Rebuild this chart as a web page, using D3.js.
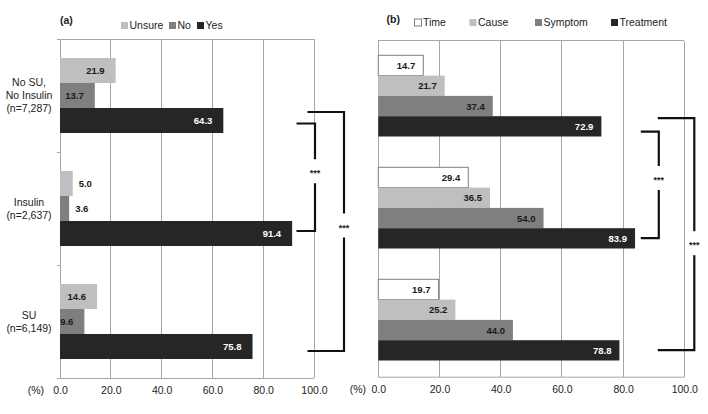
<!DOCTYPE html>
<html><head><meta charset="utf-8">
<script src="https://cdn.jsdelivr.net/npm/d3@7/dist/d3.min.js"></script>
<style>body{margin:0;background:#fff}svg{display:block;font-family:"Liberation Sans",Arial,sans-serif}</style>
</head><body>
<svg id="c" width="708" height="414"></svg>
<script>
// ---- data ----
const categories = ["No SU, No Insulin (n=7,287)", "Insulin (n=2,637)", "SU (n=6,149)"];
const categoryLines = [["No SU,", "No Insulin", "(n=7,287)"], ["Insulin", "(n=2,637)"], ["SU", "(n=6,149)"]];
const seriesA = ["Unsure", "No", "Yes"];
const unsureVals = [21.9, 5.0, 14.6];
const noVals = [13.7, 3.6, 9.6];
const yesVals = [64.3, 91.4, 75.8];
const seriesB = ["Time", "Cause", "Symptom", "Treatment"];
const timeVals = [14.7, 29.4, 19.7];
const causeVals = [21.7, 36.5, 25.2];
const symptomVals = [37.4, 54.0, 44.0];
const treatmentVals = [72.9, 83.9, 78.8];
const tickValues = [0, 20, 40, 60, 80, 100];
const sigA = [[0, 1, "***"], [0, 2, "***"]];
const sigB = [[0, 1, "***"], [0, 2, "***"]];

const valuesA = [unsureVals, noVals, yesVals];
const valuesB = [timeVals, causeVals, symptomVals, treatmentVals];

const svg = d3.select("#c");
const gridCol = "#a6a6a6";

function panel(opt) {
  const x = d3.scaleLinear().domain([0, 100]).range(opt.xr);
  const y = d3.scaleBand().domain(categories).range(opt.yr);
  const yi = d3.scaleBand().domain(opt.series).range(opt.inner);
  const g = svg.append("g");
  // gridlines
  g.selectAll("line.grid").data(tickValues).join("line")
    .attr("x1", d => x(d)).attr("x2", d => x(d))
    .attr("y1", opt.yr[0]).attr("y2", opt.yr[1])
    .attr("stroke", gridCol).attr("stroke-width", 1).attr("shape-rendering", "crispEdges");
  // top border
  g.append("line").attr("x1", x(0)).attr("x2", x(100)).attr("y1", opt.yr[0]).attr("y2", opt.yr[0])
    .attr("stroke", gridCol).attr("shape-rendering", "crispEdges");
  // bottom axis
  const ax = g.append("g").attr("transform", `translate(0,${opt.yr[1]})`)
    .call(d3.axisBottom(x).tickValues(tickValues).tickFormat(d3.format(".1f")).tickSize(0).tickPadding(9));
  ax.select(".domain").attr("stroke", gridCol).attr("d", `M${x(0) - (opt.leftTicks ? 3 : 0)},0.5H${x(100)}`);
  ax.selectAll("text").attr("font-size", 10.5).attr("fill", "#222").attr("font-family", "Liberation Sans, Arial, sans-serif");
  g.append("text").attr("x", opt.pctX).attr("y", opt.yr[1] + 16).attr("font-size", 10.5).attr("fill", "#222")
    .attr("text-anchor", "end").text("(%)");
  if (opt.leftTicks) {
    const la = g.append("g").attr("transform", `translate(${x(0)},0)`)
      .call(d3.axisLeft(d3.scaleLinear().domain([0, categories.length]).range(opt.yr)).ticks(3).tickValues([0, 1, 2, 3]).tickSize(3).tickFormat(""));
    la.select(".domain").attr("stroke", gridCol);
    la.selectAll("line").attr("stroke", gridCol);
    categories.forEach((c, i) => {
      const lines = categoryLines[i];
      const cy = y(c) + y.bandwidth() / 2;
      const t = g.append("text").attr("text-anchor", "middle").attr("font-size", 10.5).attr("fill", "#222");
      lines.forEach((l, j) => {
        t.append("tspan").attr("x", 29).attr("y", cy + (j - (lines.length - 1) / 2) * 13 + 3.8).text(l);
      });
    });
  }
  // bars
  opt.series.forEach((s, si) => {
    const vals = opt.values[si];
    const st = opt.styles[si];
    categories.forEach((c, ci) => {
      const v = vals[ci];
      const y0 = y(c) + yi(s);
      g.append("rect").attr("x", x(0)).attr("y", y0).attr("width", x(v) - x(0)).attr("height", yi.bandwidth())
        .attr("fill", st.fill).attr("stroke", st.stroke || "none").attr("stroke-width", 1);
      const t = g.append("text").attr("font-size", 9.5).attr("font-weight", "bold").attr("fill", st.text)
        .attr("y", y0 + yi.bandwidth() / 2 + 3.5).text(v.toFixed(1));
      const tw = t.node().getComputedTextLength();
      const w = x(v) - x(0);
      if (w > tw + 6) t.attr("text-anchor", "end").attr("x", x(v) - opt.lblPad);
      else t.attr("text-anchor", "start").attr("x", x(v) + 6).attr("fill", "#1a1a1a");
    });
  });
  // legend
  const lg = g.append("g");
  opt.series.forEach((s, si) => {
    const st = opt.styles[si];
    lg.append("rect").attr("x", opt.legendX[si]).attr("y", opt.legendY - 3.5).attr("width", 7).attr("height", 7)
      .attr("fill", st.fill).attr("stroke", st.stroke || "none");
    lg.append("text").attr("x", opt.legendX[si] + 8.5).attr("y", opt.legendY + 3.8).attr("font-size", 10.5)
      .attr("fill", "#222").text(s);
  });
  g.append("text").attr("x", opt.tagX).attr("y", opt.legendY + (opt.tagDy || 0)).attr("font-size", 10.5).attr("font-weight", "bold")
    .attr("fill", "#222").text(opt.tag);
  // brackets
  const last = opt.series[opt.series.length - 1];
  opt.sig.forEach((b, bi) => {
    const bs = opt.brackets[bi];
    const ya = y(categories[b[0]]) + yi(last) + bs.dyTop;
    const yb = y(categories[b[1]]) + yi(last) + bs.dyBot;
    const xv = x(100) + bs.xv, xh = x(100) + bs.xh;
    g.append("path").attr("d", `M${xh},${ya}H${xv}V${yb}H${xh}`).attr("fill", "none")
      .attr("stroke", "#111").attr("stroke-width", 2.2);
    const gy = (ya + yb) / 2 + bs.gap;
    g.append("rect").attr("x", xv - 8).attr("y", gy - 12).attr("width", 16).attr("height", 24).attr("fill", "#fff");
    g.append("text").attr("x", xv).attr("y", gy + 5).attr("text-anchor", "middle").attr("font-size", 9)
      .attr("font-weight", "bold").attr("fill", "#222").text(b[2]);
  });
}

panel({
  xr: [60, 314], yr: [39, 378], inner: [19, 94], series: seriesA, values: valuesA,
  styles: [{fill: "#bfbfbf", text: "#1a1a1a"}, {fill: "#7f7f7f", text: "#1a1a1a"}, {fill: "#262626", text: "#fff"}],
  leftTicks: true, pctX: 44, lblPad: 11,
  legendX: [121, 169, 197], legendY: 25.5, tag: "(a)", tagX: 60, tagDy: -2,
  sig: sigA,
  brackets: [{dyTop: 15.5, dyBot: 10, xv: 1, xh: -17.5, gap: -6}, {dyTop: 4, dyBot: 17, xv: 30, xh: -6.5, gap: -6}]
});
panel({
  xr: [378.3, 684.3], yr: [40.7, 376.7], inner: [14.6, 95.8], series: seriesB, values: valuesB,
  styles: [{fill: "#ffffff", stroke: "#7f7f7f", text: "#1a1a1a"}, {fill: "#bfbfbf", text: "#1a1a1a"},
           {fill: "#7f7f7f", text: "#1a1a1a"}, {fill: "#262626", text: "#fff"}],
  leftTicks: false, pctX: 366, lblPad: 8,
  legendX: [414.5, 469.5, 535, 611], legendY: 22.5, tag: "(b)", tagX: 386.5, tagDy: 0,
  sig: sigB,
  brackets: [{dyTop: 15.5, dyBot: 10, xv: -25.5, xh: -43.5, gap: -7}, {dyTop: 2, dyBot: 10, xv: 10, xh: -26.5, gap: 9}]
});
</script>
</body></html>
